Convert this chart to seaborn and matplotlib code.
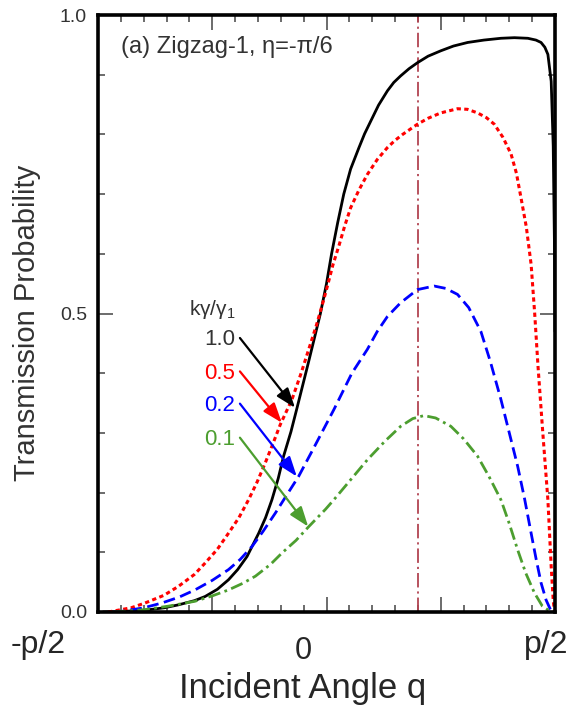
import numpy as np
import pandas as pd
import matplotlib
matplotlib.use("Agg")
import matplotlib.pyplot as plt
import seaborn as sns

# ---------------- data (angle in degrees, transmission probability) ----------------
ang_10 = [-88, -80, -71.5, -64, -58.3, -52, -47.8, -43, -38.6, -35, -31.3, -26.7, -24, -21.5,
          -19, -16.9, -14, -11.6, -9.3, -7, -4.7, -2.4, 0, 2, 4.4, 6.8, 9.5, 12.8, 15, 17.4, 20.5,
          24.0, 26.5, 29.2, 32.5, 35.8, 40, 45, 50, 55.6, 62, 68.7,
          74, 79.3, 82.5, 84.5, 86, 87.2, 88.5, 89.3, 89.8, 90]
T_10 = [0.0, 0.001, 0.003, 0.007, 0.012, 0.019, 0.026, 0.038, 0.054, 0.071, 0.093, 0.132, 0.158, 0.188,
        0.224, 0.261, 0.302, 0.342, 0.381, 0.42, 0.46, 0.50, 0.55, 0.60, 0.652, 0.700, 0.742, 0.778, 0.801, 0.822, 0.849,
        0.873, 0.887, 0.898, 0.910, 0.920, 0.931, 0.940, 0.948, 0.954, 0.958, 0.961,
        0.962, 0.961, 0.958, 0.954, 0.946, 0.934, 0.889, 0.78, 0.61, 0.47]

ang_05 = [-86, -83.4, -77, -71.5, -64, -58.3, -52, -47.8, -43, -38.6, -34.5, -30.7, -27.3, -24.1, -21, -18.2,
          -13.6, -10, -7, -4, -1.3, 0.3, 2.5, 5, 7.2, 9.5, 12.8, 16.1, 20, 24.0, 27, 30, 35.8, 40, 45, 51.6, 55.5,
          59.5, 63, 66.1, 69.5, 72.7, 74.8, 76.6, 78.7, 80.6, 82, 83.3, 85.2, 87.2, 88.5, 89.3, 89.8]
T_05 = [0.0, 0.002, 0.007, 0.015, 0.028, 0.043, 0.063, 0.082, 0.105, 0.132, 0.158, 0.188, 0.218, 0.250, 0.283, 0.314,
        0.356, 0.40, 0.44, 0.48, 0.52, 0.545, 0.581, 0.615, 0.647, 0.677, 0.707, 0.733, 0.758, 0.778, 0.790, 0.80, 0.817,
        0.827, 0.836, 0.843, 0.842, 0.836, 0.828, 0.817, 0.795, 0.767, 0.735, 0.694, 0.645, 0.582, 0.50, 0.412, 0.300,
        0.188, 0.076, 0.02, 0.0]

ang_02 = [-84, -80.7, -72, -64.9, -58, -51.8, -45, -38.6, -34, -29.3, -25, -20.1, -15.5, -11, -5,
          2.9, 10, 16.1, 20, 24, 29.2, 35.8, 42.4, 47, 51.6, 56, 60.8, 64.5, 68.7, 72, 75.3,
          78, 80.6, 82.5, 84.5, 86.5, 88, 89.1]
T_02 = [0.0, 0.001, 0.007, 0.015, 0.025, 0.037, 0.053, 0.071, 0.088, 0.110, 0.135, 0.166, 0.197, 0.227, 0.275,
        0.339, 0.40, 0.440, 0.470, 0.495, 0.518, 0.540, 0.546, 0.542, 0.532, 0.51, 0.470, 0.42, 0.356, 0.30, 0.244,
        0.19, 0.132, 0.09, 0.049, 0.02, 0.006, 0.0]

ang_01 = [-84, -71.5, -62, -51.8, -45, -38.6, -33, -28.0, -22, -17.5, -12, -7.0, -0.4, 2.9, 10, 16.1,
          23, 29.2, 34, 38.4, 43, 49.0, 54, 59.5, 64, 68.7, 72, 75.3, 78.5, 81.9, 85, 88.5]
T_01 = [0.0, 0.004, 0.01, 0.018, 0.027, 0.037, 0.048, 0.060, 0.080, 0.099, 0.12, 0.143, 0.172, 0.188, 0.224, 0.255,
        0.286, 0.311, 0.324, 0.329, 0.325, 0.311, 0.29, 0.261, 0.227, 0.188, 0.148, 0.104, 0.065, 0.032, 0.01, 0.0]

series_labels = ["1.0", "0.5", "0.2", "0.1"]
vline_angle = 36.0
x_major = [-45, 0, 45]
y_ticks = [0.0, 0.5, 1.0]
y_ticklabels = ["0.0", "0.5", "1.0"]
x_ticklabels = ["-p/2", "0", "p/2"]

# ---------------- style ----------------
sns.set_style("white")
plt.rcParams["font.family"] = ["Liberation Sans", "DejaVu Sans"]
plt.rcParams["mathtext.default"] = "regular"

fig = plt.figure(figsize=(5.71, 7.11), dpi=100)
W, H = 571, 711
L, R, Tp, B = 98, 555, 15, 612
ax = fig.add_axes([L / W, 1 - B / H, (R - L) / W, (B - Tp) / H])

colors = ["black", "#ff0000", "#0000ff", "#4c9e2f"]
styles = ["-", (0, (1.4, 1.1)), (0, (4.2, 2.0)), (0, (4.5, 1.6, 1.0, 1.6))]
lws = [2.0, 2.2, 2.0, 2.0]
data = [(ang_10, T_10), (ang_05, T_05), (ang_02, T_02), (ang_01, T_01)]

for (xs, ys), c, ls, lw in zip(data, colors, styles, lws):
    df = pd.DataFrame({"angle": xs, "T": ys})
    sns.lineplot(data=df, x="angle", y="T", ax=ax, color=c, linestyle=ls, lw=lw,
                 sort=False, estimator=None)

ax.axvline(vline_angle, color="#b24452", lw=1.3, linestyle=(0, (8, 2.2, 1.2, 2.2)), zorder=1)

ax.set_xlim(-90, 90)
ax.set_ylim(0, 1.0)

# ticks (inward, on all four sides)
ax.set_xticks(x_major)
ax.set_xticks(np.arange(-90, 91, 9), minor=True)
ax.set_xticklabels([])
ax.set_yticks(y_ticks)
ax.set_yticklabels(y_ticklabels)
ax.set_yticks(np.arange(0, 1.01, 0.1), minor=True)
ax.xaxis.set_ticks_position("both")
ax.yaxis.set_ticks_position("both")
ax.xaxis.set_tick_params(which="major", direction="in", length=10.5, width=1.1, color="#444444",
                         top=True, bottom=True)
ax.xaxis.set_tick_params(which="minor", direction="in", length=5, width=1.1, color="#444444",
                         top=True, bottom=True)
ax.yaxis.set_tick_params(which="major", direction="in", length=10.5, width=1.1, color="#444444",
                         left=True, right=True, labelsize=14, labelcolor="#333333", pad=8)
ax.yaxis.set_tick_params(which="minor", direction="in", length=5, width=1.1, color="#444444",
                         left=True, right=True)

for sp in ax.spines.values():
    sp.set_linewidth(2.6)
    sp.set_color("black")
    sp.set_visible(True)

# x tick labels as placed in the original
fig.text(38 / W, 1 - 645 / H, x_ticklabels[0], fontsize=23, ha="center", va="center")
fig.text(303 / W, 1 - 651 / H, x_ticklabels[1], fontsize=22, ha="center", va="center")
fig.text(546 / W, 1 - 645 / H, x_ticklabels[2], fontsize=23, ha="center", va="center")

# axis labels
ax.set_xlabel("Incident Angle q", fontsize=25)
ax.xaxis.label.set_verticalalignment("baseline")
ax.xaxis.set_label_coords((303 - L) / (R - L), (B - 698) / (B - Tp))
ax.set_ylabel("Transmission Probability", fontsize=21, color="#333333")
ax.yaxis.label.set_verticalalignment("center")
ax.yaxis.set_label_coords((27 - L) / (R - L), (B - 323) / (B - Tp))

# panel title
ax.text((121 - L) / (R - L), (B - 47) / (B - Tp), "(a) Zigzag-1, η=-π/6",
        transform=ax.transAxes, fontsize=17, color="#333333", ha="left", va="center")

# annotation block
ax.text(-45.1, 0.506, "kγ/γ$_1$", fontsize=15, color="#333333", ha="center", va="center")
label_y = [0.456, 0.400, 0.346, 0.289]
arrow_end = [(-12.4, 0.342), (-17.6, 0.317), (-11.7, 0.227), (-7.2, 0.143)]
lab_colors = ["#333333", "#ff0000", "#0000ff", "#4c9e2f"]
for lab, ly, (ex, ey), c, lc in zip(series_labels, label_y, arrow_end, colors, lab_colors):
    ax.text(-36.0, ly, lab, fontsize=16, color=lc, ha="right", va="center")
    ax.annotate("", xy=(ex, ey), xytext=(-34.1, ly + 0.003),
                arrowprops=dict(arrowstyle="-|>,head_length=0.75,head_width=0.27",
                                color=c, lw=1.6, mutation_scale=16, shrinkA=0, shrinkB=0))

fig.savefig("out.png", dpi=100)
